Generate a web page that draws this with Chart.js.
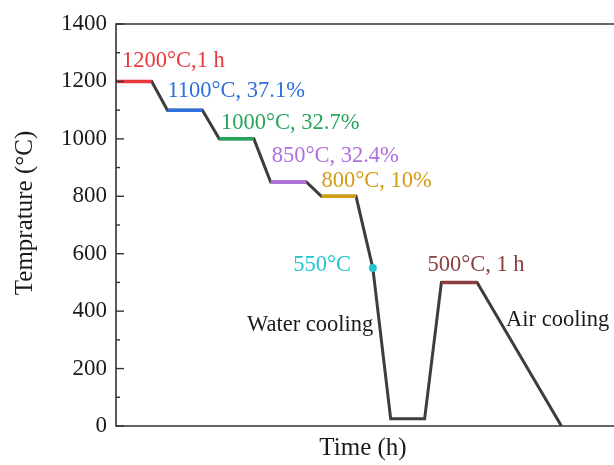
<!DOCTYPE html>
<html>
<head>
<meta charset="utf-8">
<script src="https://cdn.jsdelivr.net/npm/chart.js@4.4.0/dist/chart.umd.min.js"></script>
<style>
  html, body { margin: 0; padding: 0; background: #fff; overflow: hidden; }
</style>
</head>
<body>
<canvas id="chart" width="614" height="465"></canvas>
<script>
'use strict';

// heat treatment route: time in hours, temperature in °C
var timeH = [0, 1.0, 1.44, 2.42, 2.89, 3.86, 4.33, 5.33, 5.75, 6.72, 7.19, 7.69, 8.64, 9.11, 10.11, 12.47];
var tempC = [1200, 1200, 1100, 1100, 1000, 1000, 850, 850, 800, 800, 550, 25, 25, 500, 500, 0];

// isothermal holds (rolling passes + tempering)
var holdStart = [0, 1.44, 2.89, 4.33, 5.75, 9.11];
var holdEnd = [1.0, 2.42, 3.86, 5.33, 6.72, 10.11];
var holdTemp = [1200, 1100, 1000, 850, 800, 500];
var holdColors = ['#e8383c', '#2f6fdc', '#25a55c', '#b06ee0', '#d39a12', '#8a3e3e'];

// start of water quench
var quenchTime = [7.19];
var quenchTemp = [550];

var yTicks = [0, 200, 400, 600, 800, 1000, 1200, 1400];

var serif = '"Liberation Serif", "Times New Roman", serif';

// text notes, anchored in data units
var notes = [
    { text: '1200°C,1 h', x: 0.17, y: 1270, color: '#e8383c', align: 'left' },
    { text: '1100°C, 37.1%', x: 1.44, y: 1165, color: '#2f6fdc', align: 'left' },
    { text: '1000°C, 32.7%', x: 2.94, y: 1054, color: '#25a55c', align: 'left' },
    { text: '850°C, 32.4%', x: 4.36, y: 939, color: '#b06ee0', align: 'left' },
    { text: '800°C, 10%', x: 5.75, y: 852, color: '#d39a12', align: 'left' },
    { text: '550°C', x: 6.58, y: 560, color: '#1fc6cf', align: 'right' },
    { text: 'Water cooling', x: 3.67, y: 351, color: '#1a1a1a', align: 'left' },
    { text: '500°C, 1 h', x: 8.72, y: 560, color: '#8a3e3e', align: 'left' },
    { text: 'Air cooling', x: 10.92, y: 369, color: '#1a1a1a', align: 'left' }
];

function pts(xs, ys) {
    return xs.map(function(x, i) { return { x: x, y: ys[i] }; });
}

var datasets = [{
    data: pts(timeH, tempC),
    borderColor: '#3d3d3d',
    borderWidth: 3,
    pointRadius: 0,
    tension: 0,
    order: 2
}];

holdTemp.forEach(function(t, i) {
    datasets.push({
        data: pts([holdStart[i], holdEnd[i]], [t, t]),
        borderColor: holdColors[i],
        borderWidth: 3.5,
        pointRadius: 0,
        order: 1
    });
});

datasets.push({
    data: pts(quenchTime, quenchTemp),
    showLine: false,
    pointRadius: 4,
    pointBackgroundColor: '#1fc6cf',
    pointBorderWidth: 0,
    order: 0
});

var decorations = {
    id: 'decorations',
    afterDraw: function(chart) {
        var ctx = chart.ctx;
        var a = chart.chartArea;
        var xs = chart.scales.x, ys = chart.scales.y;
        ctx.save();

        // axes frame (open on the right)
        ctx.strokeStyle = '#333';
        ctx.lineWidth = 1.6;
        ctx.beginPath();
        ctx.moveTo(chart.width, a.top);
        ctx.lineTo(a.left, a.top);
        ctx.lineTo(a.left, a.bottom);
        ctx.lineTo(chart.width, a.bottom);
        ctx.stroke();

        // inward ticks, major + minor
        ctx.lineWidth = 1.4;
        for (var v = 0; v <= 1400; v += 100) {
            var py = ys.getPixelForValue(v);
            var len = v % 200 === 0 ? 8 : 4;
            ctx.beginPath();
            ctx.moveTo(a.left, py);
            ctx.lineTo(a.left + len, py);
            ctx.stroke();
        }

        // notes
        ctx.font = '22.5px ' + serif;
        ctx.textBaseline = 'middle';
        notes.forEach(function(n) {
            ctx.fillStyle = n.color;
            ctx.textAlign = n.align;
            ctx.fillText(n.text, xs.getPixelForValue(n.x), ys.getPixelForValue(n.y));
        });

        // axis titles
        ctx.fillStyle = '#1a1a1a';
        ctx.font = '25px ' + serif;
        ctx.textAlign = 'center';
        ctx.fillText('Time (h)', (a.left + a.right) / 2, 448);

        ctx.translate(25, 213);
        ctx.rotate(-Math.PI / 2);
        ctx.fillText('Temprature (°C)', 0, 0);
        ctx.restore();
    }
};

new Chart(document.getElementById('chart'), {
    type: 'line',
    data: { datasets: datasets },
    options: {
        responsive: false,
        animation: false,
        layout: { padding: { top: 24, right: 0, left: 0, bottom: 0 } },
        plugins: { legend: { display: false }, tooltip: { enabled: false } },
        scales: {
            x: {
                type: 'linear',
                min: 0,
                max: 13.83,
                ticks: { display: false },
                grid: { display: false, drawTicks: false },
                border: { display: false },
                afterFit: function(s) { s.height = 39; }
            },
            y: {
                min: 0,
                max: 1400,
                afterBuildTicks: function(s) {
                    s.ticks = yTicks.map(function(v) { return { value: v }; });
                },
                ticks: {
                    padding: 9,
                    color: '#1a1a1a',
                    font: { family: serif, size: 23 },
                    callback: function(v) { return String(v); }
                },
                grid: { display: false, drawTicks: false },
                border: { display: false },
                afterFit: function(s) { s.width = 116; }
            }
        }
    },
    plugins: [decorations]
});
</script>
</body>
</html>
